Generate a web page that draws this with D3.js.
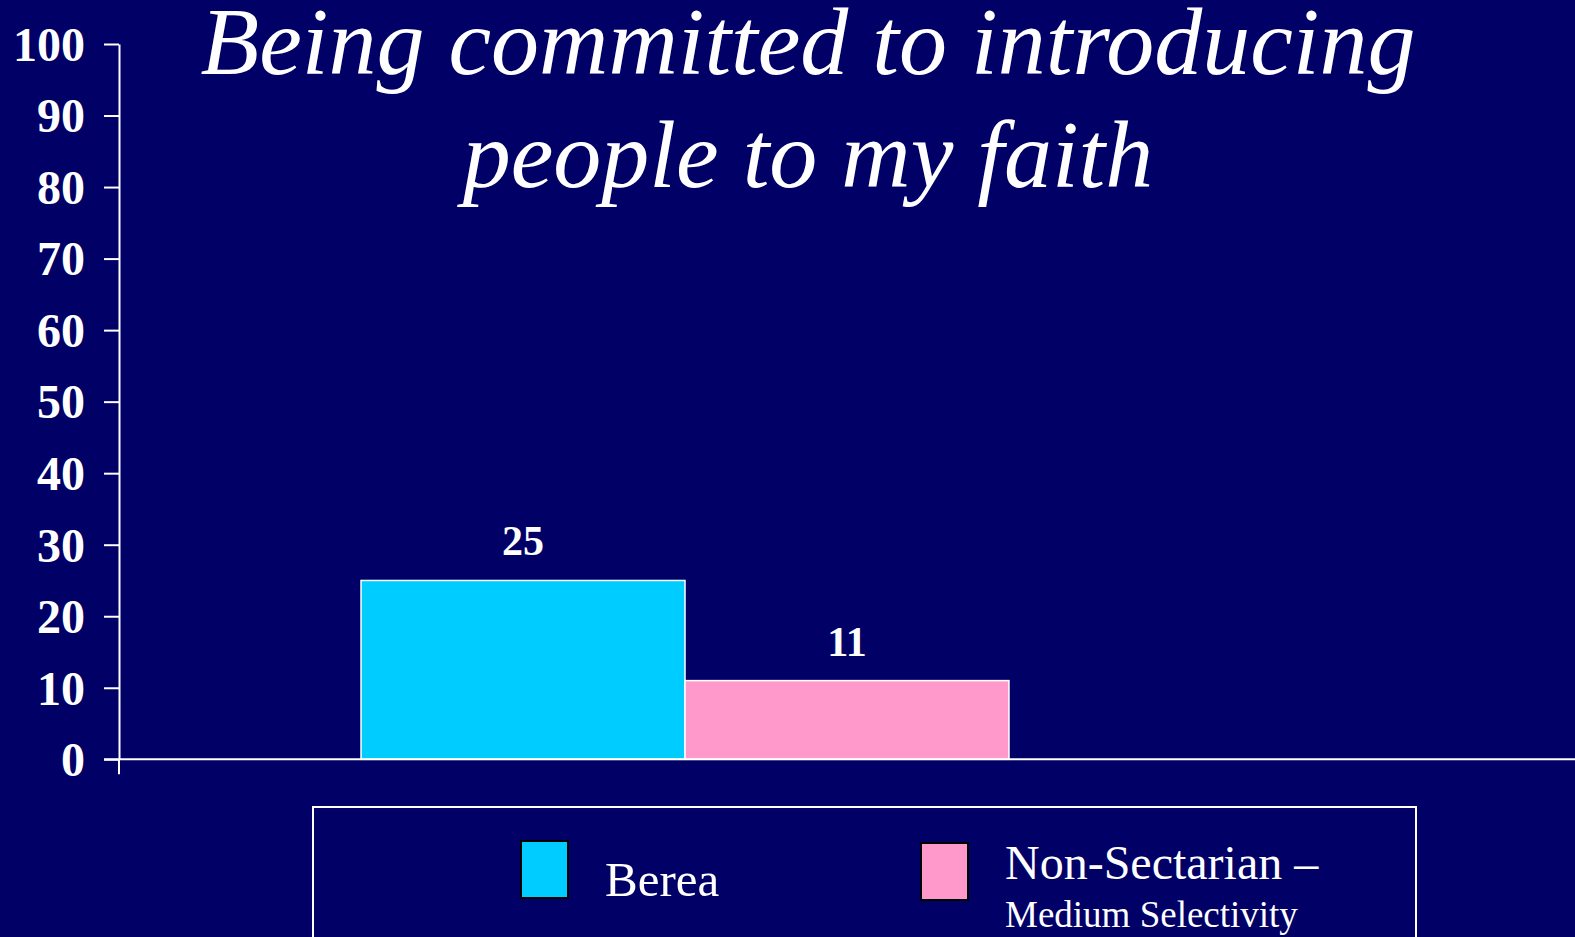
<!DOCTYPE html>
<html>
<head>
<meta charset="utf-8">
<script src="https://cdn.jsdelivr.net/npm/d3@7"></script>
<style>
  html, body { margin: 0; padding: 0; background: #000066; overflow: hidden; }
  svg { display: block; }
</style>
</head>
<body>
<script>
// ---- Data ----
const titleLines = ["Being committed to introducing", "people to my faith"];
const categories = ["Being committed to introducing people to my faith"];
const seriesNames = ["Berea", "Non-Sectarian –"];
const seriesSubNames = ["", "Medium Selectivity"];
const seriesValues = [25, 11];
const seriesColors = ["#00CCFF", "#FF99CC"];
const yTickValues = [0, 10, 20, 30, 40, 50, 60, 70, 80, 90, 100];

// ---- Layout ----
const W = 1575, H = 937;
const bg = "#000066";
const font = "'Liberation Serif', 'Times New Roman', serif";

const svg = d3.select("body").append("svg")
  .attr("width", W).attr("height", H);

svg.append("rect").attr("width", W).attr("height", H).attr("fill", bg);

const y = d3.scaleLinear().domain([0, 100]).range([759.3, 44]);
const x0 = d3.scaleBand().domain(categories).range([119, 1251])
  .paddingInner(0).paddingOuter(0.3735);
const x1 = d3.scaleBand().domain(seriesNames).range([0, x0.bandwidth()]);

// Title
svg.append("g").selectAll("text").data(titleLines).join("text")
  .attr("x", 808)
  .attr("y", (d, i) => 74 + i * 113)
  .attr("text-anchor", "middle")
  .attr("fill", "#ffffff")
  .style("font-family", font)
  .style("font-style", "italic")
  .style("font-size", "96px")
  .text(d => d);

// Bars
const bars = seriesNames.map((s, i) => ({ cat: categories[0], name: s, value: seriesValues[i], color: seriesColors[i] }));
const gBars = svg.append("g");
gBars.selectAll("rect").data(bars).join("rect")
  .attr("x", d => x0(d.cat) + x1(d.name))
  .attr("y", d => y(d.value))
  .attr("width", x1.bandwidth())
  .attr("height", d => y(0) - y(d.value))
  .attr("fill", d => d.color)
  .attr("stroke", "#ffffff")
  .attr("stroke-width", 1.5);

// Value labels
gBars.selectAll("text").data(bars).join("text")
  .attr("x", d => x0(d.cat) + x1(d.name) + x1.bandwidth() / 2)
  .attr("y", d => y(d.value) - 25)
  .attr("text-anchor", "middle")
  .attr("fill", "#ffffff")
  .style("font-family", font)
  .style("font-weight", "bold")
  .style("font-size", "42px")
  .text(d => d.value);

// Y axis
const yAxis = svg.append("g")
  .attr("transform", "translate(119,0)")
  .call(d3.axisLeft(y).tickValues(yTickValues).tickSize(15).tickSizeOuter(0).tickPadding(19));
yAxis.selectAll("path, line").attr("stroke", "#ffffff").attr("stroke-width", 2);
yAxis.selectAll("text")
  .attr("fill", "#ffffff")
  .attr("dy", "0.34em")
  .style("font-family", font)
  .style("font-weight", "bold")
  .style("font-size", "48px");

// X axis line (extends to right edge) and the tick below origin
svg.append("line")
  .attr("x1", 104).attr("x2", W)
  .attr("y1", y(0)).attr("y2", y(0))
  .attr("stroke", "#ffffff").attr("stroke-width", 2);
svg.append("line")
  .attr("x1", 119).attr("x2", 119)
  .attr("y1", y(0)).attr("y2", y(0) + 15)
  .attr("stroke", "#ffffff").attr("stroke-width", 2);

// Legend
const legend = svg.append("g");
legend.append("rect")
  .attr("x", 313).attr("y", 807)
  .attr("width", 1103).attr("height", 200)
  .attr("fill", "none")
  .attr("stroke", "#ffffff").attr("stroke-width", 2);

const legendItems = seriesNames.map((s, i) => ({ name: s, sub: seriesSubNames[i], color: seriesColors[i] }));
const legX = [521, 921];
const legY = [841, 843];
const li = legend.selectAll("g.item").data(legendItems).join("g").attr("class", "item");
li.append("rect")
  .attr("x", (d, i) => legX[i]).attr("y", (d, i) => legY[i])
  .attr("width", 47).attr("height", 57)
  .attr("fill", d => d.color)
  .attr("stroke", "#000000").attr("stroke-width", 2);
li.append("text")
  .attr("x", (d, i) => legX[i] + 84)
  .attr("y", (d, i) => d.sub ? 879 : 896)
  .attr("fill", "#ffffff")
  .style("font-family", font)
  .style("font-size", (d) => d.sub ? "48px" : "49px")
  .text(d => d.name);
li.filter(d => d.sub).append("text")
  .attr("x", legX[1] + 84)
  .attr("y", 927)
  .attr("fill", "#ffffff")
  .style("font-family", font)
  .style("font-size", "37px")
  .text(d => d.sub);
</script>
</body>
</html>
